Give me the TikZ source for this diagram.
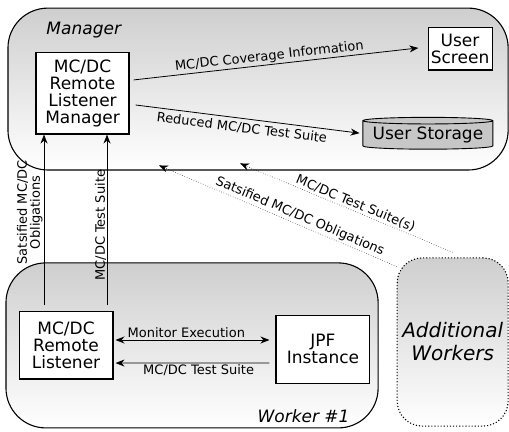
\documentclass[tikz,border=0pt]{standalone}
\usepackage{fontspec}
\setmainfont{DejaVu Sans}
\usepackage{tikz}
\usetikzlibrary{arrows.meta, positioning, shapes.geometric, calc}

\begin{document}
\begin{tikzpicture}[
        group/.style={rectangle, draw, line width=1.1pt, rounded corners=1.4cm, top color=black!19, bottom color=white},
        box/.style={rectangle, draw, line width=1.1pt, fill=white, align=center, font=\fontsize{17}{17}\selectfont, inner sep=0pt},
        lbl/.style={font=\fontsize{13}{13}\selectfont, inner sep=1.5pt},
        title/.style={font=\fontsize{17}{17}\selectfont\itshape},
        arr/.style={-{Stealth[length=9pt, width=7pt]}, line width=0.8pt},
        farr/.style={-{Stealth[length=9pt, width=7pt]}, dotted, line width=0.5pt},
    ]
        \useasboundingbox (0,0) rectangle (17.89,-15.15);

        % Containers
        \node[group, minimum width=17.58cm, minimum height=5.69cm] (mgrbg) at (9.07,-3.13) {};
        \node[title, anchor=west] (mgrtitle) at (1.51,-1.05) {Manager};

        \node[group, minimum width=13.08cm, minimum height=5.80cm] (wrkbg) at (6.75,-12.14) {};
        \node[title, anchor=east] (wrktitle) at (12.41,-14.62) {Worker \#1};

        \node[group, dotted, rounded corners=0.88cm, minimum width=3.90cm, minimum height=5.91cm, align=center, font=\fontsize{20}{23}\selectfont\itshape] (addbg) at (15.91,-12.02) {Additional\\Workers};

        % Manager side
        \node[box, minimum width=3.27cm, minimum height=2.88cm] (mgr) at (2.90,-3.27) {MC/DC\\Remote\\Listener\\Manager};
        \node[box, minimum width=2.25cm, minimum height=1.48cm] (scr) at (16.17,-1.72) {User\\Screen};
        \node[cylinder, shape border rotate=90, aspect=0.06, draw, line width=0.9pt, fill=black!22, font=\fontsize{17}{17}\selectfont, minimum width=4.57cm, minimum height=1.12cm, inner sep=0pt] (sto) at (15.04,-4.75) {User Storage};

        % Worker side
        \node[box, minimum width=3.30cm, minimum height=2.36cm] (lis) at (2.32,-12.14) {MC/DC\\Remote\\Listener};
        \node[box, minimum width=3.30cm, minimum height=2.39cm] (jpf) at (11.35,-12.27) {JPF\\Instance};

        % Arrows in the manager
        \draw[arr] ([xshift=0.14cm, yshift=0.46cm]mgr.east) -- node[lbl, sloped, above, pos=0.48] {MC/DC Coverage Information} ([xshift=-0.32cm, yshift=0.035cm]scr.west);
        \draw[arr] ([xshift=0.21cm, yshift=-0.42cm]mgr.east) -- node[lbl, sloped, below, pos=0.48, yshift=-2pt] {Reduced MC/DC Test Suite} ([xshift=-0.1cm, yshift=0.07cm]sto.west);

        % Worker to manager
        \coordinate (obl) at (1.547,-10.72);
        \coordinate (ts) at (3.761,-10.72);
        \draw[arr] (obl) -- node[lbl, sloped, above, align=center, pos=0.544, inner sep=1pt] {Satsified MC/DC\\Obligations} (obl |- mgr.south);
        \draw[arr] (ts) -- node[lbl, sloped, above, pos=0.468, inner sep=0.5pt] {MC/DC Test Suite} (ts |- mgr.south);

        % Additional workers to manager
        \draw[farr] ([yshift=0.18cm]addbg.north) -- node[lbl, sloped, above, pos=0.47] {MC/DC Test Suite(s)} ([xshift=-0.63cm, yshift=0.25cm]mgrbg.south);
        \draw[farr] ([yshift=-0.32cm]addbg.north west) -- node[lbl, sloped, above, pos=0.42] {Satsified MC/DC Obligations} ([xshift=-3.48cm, yshift=0.18cm]mgrbg.south);

        % Inside the worker
        \draw[arr, {Stealth[length=9pt, width=7pt]}-{Stealth[length=9pt, width=7pt]}] ([xshift=0.07cm, yshift=0.19cm]lis.east) -- node[lbl, above, pos=0.46] {Monitor Execution} ([xshift=-0.21cm, yshift=0.32cm]jpf.west);
        \draw[arr] ([xshift=-0.21cm, yshift=-0.49cm]jpf.west) -- node[lbl, below, pos=0.46] {MC/DC Test Suite} ([xshift=0.07cm, yshift=-0.62cm]lis.east);
    \end{tikzpicture}
\end{document}
